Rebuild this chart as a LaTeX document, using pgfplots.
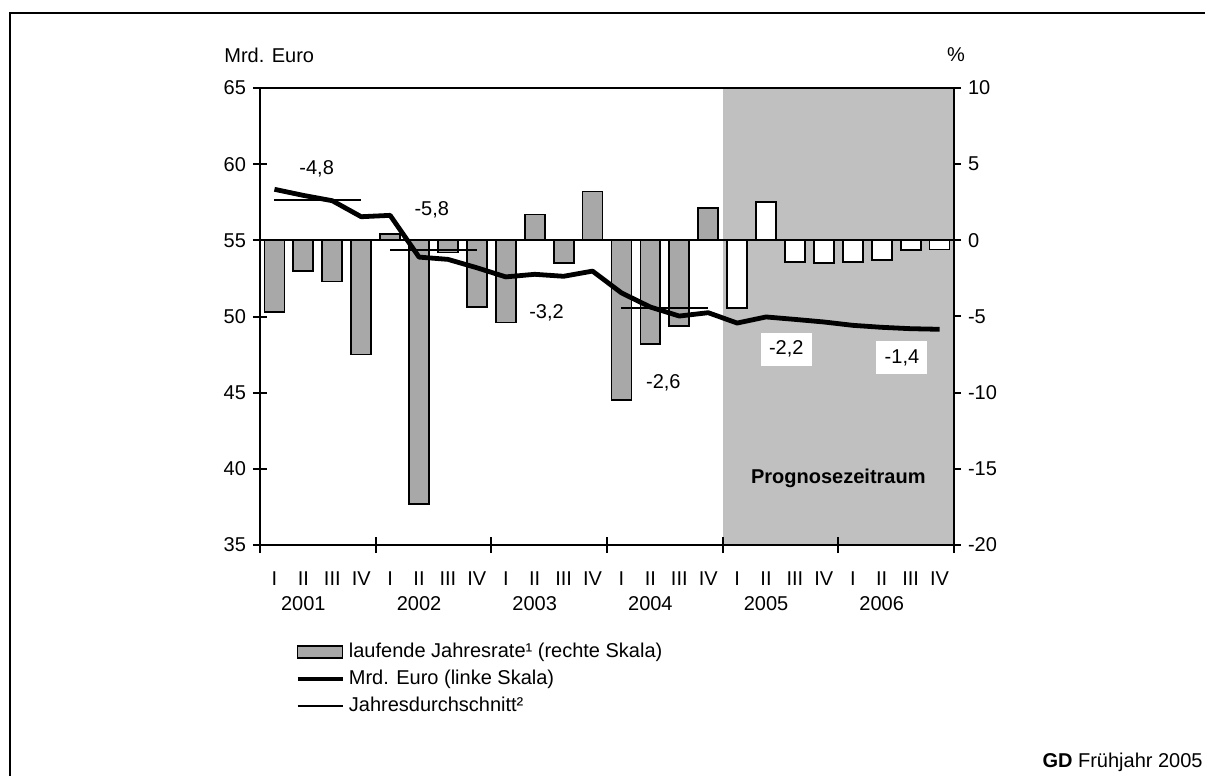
\documentclass[border=0pt]{standalone}
\usepackage{fontspec}
\setmainfont{Liberation Sans}
\usepackage{pgfplots}
\pgfplotsset{compat=1.18}

\definecolor{barfill}{HTML}{A8A8A8}
\definecolor{proggray}{HTML}{C0C0C0}

\newcommand{\chartfont}{\fontsize{10}{12.5}\selectfont}

\pgfplotsset{
  common/.style={
    scale only axis,
    width=347pt, height=228.5pt,
    at={(0pt,0pt)}, anchor=south west,
    xmin=0, xmax=24,
    axis line style={line width=1pt},
    tick align=center,
    major tick length=7pt,
    tick style={line width=1pt, black},
    /pgf/number format/assume math mode=true,
    tick label style={font=\chartfont},
  }
}

\begin{document}
\begin{tikzpicture}
\useasboundingbox (-130pt,-115.5pt) rectangle (472.5pt,272.5pt);
\draw[line width=1pt] (-125pt,-130pt) -- (-125pt,266pt) -- (490pt,266pt);

% bars, right scale (percent)
\begin{axis}[common,
  ymin=-20, ymax=10,
  axis x line=none,
  axis y line*=right,
  ytick={-20,-15,...,10},
  ybar, bar width=0.69, bar shift=0pt,
]
\fill[proggray] (axis cs:16,-20) rectangle (axis cs:24,10);
\addplot[fill=barfill, draw=black, line width=0.9pt] coordinates {
  (0.5,-4.7) (1.5,-2.0) (2.5,-2.7) (3.5,-7.5)
  (4.5,0.4) (5.5,-17.3) (6.5,-0.8) (7.5,-4.4)
  (8.5,-5.4) (9.5,1.7) (10.5,-1.5) (11.5,3.2)
  (12.5,-10.5) (13.5,-6.8) (14.5,-5.6) (15.5,2.1)
};
\addplot[fill=white, draw=black, line width=0.9pt] coordinates {
  (16.5,-4.45) (17.5,2.5) (18.5,-1.4) (19.5,-1.5)
  (20.5,-1.4) (21.5,-1.3) (22.5,-0.65) (23.5,-0.6)
};
\draw[line width=1pt] (axis cs:0,0) -- (axis cs:24,0);
\end{axis}

% line, left scale (Mrd. Euro)
\begin{axis}[common,
  ymin=35, ymax=65,
  ytick={35,40,...,65},
  ytick pos=left, xtick pos=bottom,
  xtick={0.5,1.5,...,23.5},
  xticklabels={I,{II\\2001},III,IV,I,{II\\2002},III,IV,I,{II\\2003},III,IV,
               I,{II\\2004},III,IV,I,{II\\2005},III,IV,I,{II\\2006},III,IV},
  xticklabel style={align=center, font=\chartfont, yshift=-6.5pt},
  major x tick style={draw=none},
  minor xtick={0,4,...,24},
  minor tick length=8pt,
  minor x tick style={line width=1pt},
  clip=false,
  legend style={at={(rel axis cs:0.05,-0.205)}, anchor=north west, draw=none, fill=none,
    font=\chartfont, row sep=0.8pt, inner sep=0pt},
  legend cell align=left,
]
\addlegendimage{legend image code/.code={\draw[draw=black, line width=0.9pt, fill=barfill] (0pt,-3pt) rectangle (22.5pt,3pt);}}
\addlegendentry{laufende Jahresrate¹ (rechte Skala)}
\addlegendimage{legend image code/.code={\draw[line width=2.4pt] (0pt,0pt) -- (22.5pt,0pt);}}
\addlegendentry{Mrd. Euro (linke Skala)}
\addlegendimage{legend image code/.code={\draw[line width=1pt] (0pt,0pt) -- (22.5pt,0pt);}}
\addlegendentry{Jahresdurchschnitt²}

\addplot[forget plot, line width=1pt] coordinates {(0.5,57.63) (3.5,57.63)};
\addplot[forget plot, line width=1pt] coordinates {(4.5,54.39) (7.5,54.39)};
\addplot[forget plot, line width=1pt] coordinates {(12.5,50.58) (15.5,50.58)};

\addplot[forget plot, line width=2.4pt, line join=round] coordinates {
  (0.5,58.35) (1.5,57.95) (2.5,57.6) (3.5,56.55)
  (4.5,56.64) (5.5,53.9) (6.5,53.75) (7.5,53.2)
  (8.5,52.6) (9.5,52.77) (10.5,52.64) (11.5,52.98)
  (12.5,51.55) (13.5,50.62) (14.5,50.03) (15.5,50.25)
  (16.5,49.57) (17.5,49.97) (18.5,49.81) (19.5,49.64)
  (20.5,49.42) (21.5,49.29) (22.5,49.2) (23.5,49.16)
};

\node[font=\chartfont] at (axis cs:1.96,59.7) {-4,8};
\node[font=\chartfont] at (axis cs:5.94,57.0) {-5,8};
\node[font=\chartfont] at (axis cs:9.91,50.23) {-3,2};
\node[font=\chartfont] at (axis cs:13.95,45.66) {-2,6};
\node[font=\chartfont, fill=white, minimum width=25.5pt, minimum height=16.5pt, inner sep=0pt] at (axis cs:18.2,47.86) {-2,2};
\node[font=\chartfont, fill=white, minimum width=25.5pt, minimum height=16.5pt, inner sep=0pt] at (axis cs:22.2,47.3) {-1,4};
\node[font=\chartfont\bfseries] at (axis cs:20,39.4) {Prognosezeitraum};
\end{axis}

\node[font=\chartfont, anchor=west, inner sep=0pt] at (-18pt,245pt) {Mrd. Euro};
\node[font=\chartfont, inner sep=0pt] at (348pt,245pt) {\%};
\node[font=\chartfont, anchor=east, inner sep=0pt] at (471.5pt,-108.5pt) {\textbf{GD} Frühjahr 2005};
\end{tikzpicture}
\end{document}
